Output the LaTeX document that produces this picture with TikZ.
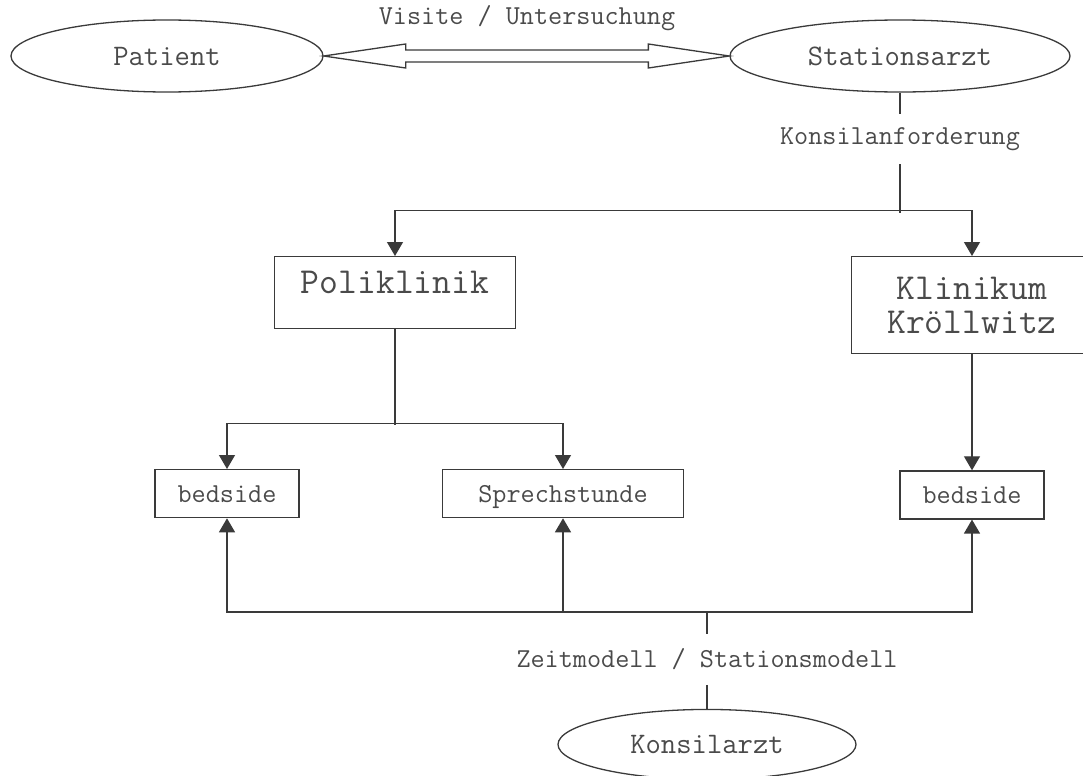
\documentclass[tikz,border=0pt]{standalone}
\usepackage{fontspec}
\usetikzlibrary{positioning,arrows.meta,shapes,calc}
\definecolor{ink}{HTML}{3A3A3A}
\definecolor{txt}{HTML}{4A4A4A}
\tikzstyle{rolebox}=[ellipse, draw=ink, line width=0.65pt, text=txt,
 inner sep=0pt, minimum height=36pt, font=\ttfamily\fontsize{14.9}{16}\selectfont]
\tikzstyle{sitebox}=[rectangle, draw=ink, line width=0.65pt, text=txt,
 minimum width=120.5pt, align=center, font=\ttfamily\fontsize{18.3}{17}\selectfont]
\tikzstyle{modebox}=[rectangle, draw=ink, line width=0.65pt, text=txt, text depth=0pt,
 minimum height=24pt, inner sep=0pt, font=\ttfamily\fontsize{13.7}{15}\selectfont]
\tikzstyle{lbl}=[text=txt, minimum height=25pt, inner sep=0pt, font=\ttfamily\fontsize{13.7}{15}\selectfont]
\tikzstyle{line}=[-, draw=ink, line width=0.65pt]
\tikzstyle{aline}=[-{Triangle[length=7pt,width=8pt]}, draw=ink, line width=0.65pt]

\begin{document}
\begin{tikzpicture}[x=0.5pt, y=-0.5pt, node distance=0pt]
\useasboundingbox (0,0) rectangle (1083,776);

	\node (patient) [rolebox, minimum width=156pt] at (167,56) {Patient};
	\node (station) [rolebox, minimum width=170pt] at (900,56) {Stationsarzt};
	\node (visite) [lbl] at (527,18) {Visite / Untersuchung};
	\node (konsanf) [lbl, below=10.5pt of station] {Konsilanforderung};
	\coordinate [below=23pt of konsanf] (kjoin);
%%% places
	\node (poli) [sitebox, minimum height=36pt, text height=10pt, text depth=9pt, anchor=north] at (395,256) {Poliklinik};
	\node (klinik) [sitebox, minimum height=48.5pt, anchor=north] at (972,256) {Klinikum\\Kröllwitz};
	\coordinate [below=47pt of poli] (pjoin);
	\node (bedpoli) [modebox, minimum width=72pt, anchor=north] at (227,469) {bedside};
	\node (sprech) [modebox, minimum width=120.5pt, anchor=north] at (563,469) {Sprechstunde};
	\node (bedklin) [modebox, minimum width=72pt, below=58pt of klinik] {bedside};
%%% konsil
	\coordinate (zjoin) at (707,612);
	\node (zeit) [lbl, below=11pt of zjoin] {Zeitmodell / Stationsmodell};
	\node (konsil) [rolebox, minimum width=149pt, minimum height=35pt, below=12pt of zeit] {Konsilarzt};

   \draw[line, fill=white] (patient.east) -- ++(82,-12) -- ++(0,6) -- ($(station.west)+(-81,-6)$)
     -- ++(0,-6) -- (station.west) -- ++(-81,12) -- ++(0,-6) -- ($(patient.east)+(82,6)$)
     -- ++(0,6) -- cycle;

   \draw[line] (station) -- (konsanf);
   \draw[line] (konsanf) -- ($(kjoin)+(0,3)$);
   \draw[aline] (kjoin) -| (poli.north);
   \draw[aline] (kjoin) -| (klinik.north);

   \draw[line] (poli) -- ($(pjoin)+(0,2)$);
   \draw[aline] (pjoin) -| (bedpoli.north);
   \draw[aline] (pjoin) -| (sprech.north);
   \draw[aline] (klinik) -- (bedklin);

   \draw[aline] (zjoin) -| (bedpoli.south);
   \draw[aline] (zjoin) -| (sprech.south);
   \draw[aline] (zjoin) -| (bedklin.south);
   \draw[line] (zjoin) -- (zeit);
   \draw[line] (zeit) -- (konsil);

\end{tikzpicture}
\end{document}
